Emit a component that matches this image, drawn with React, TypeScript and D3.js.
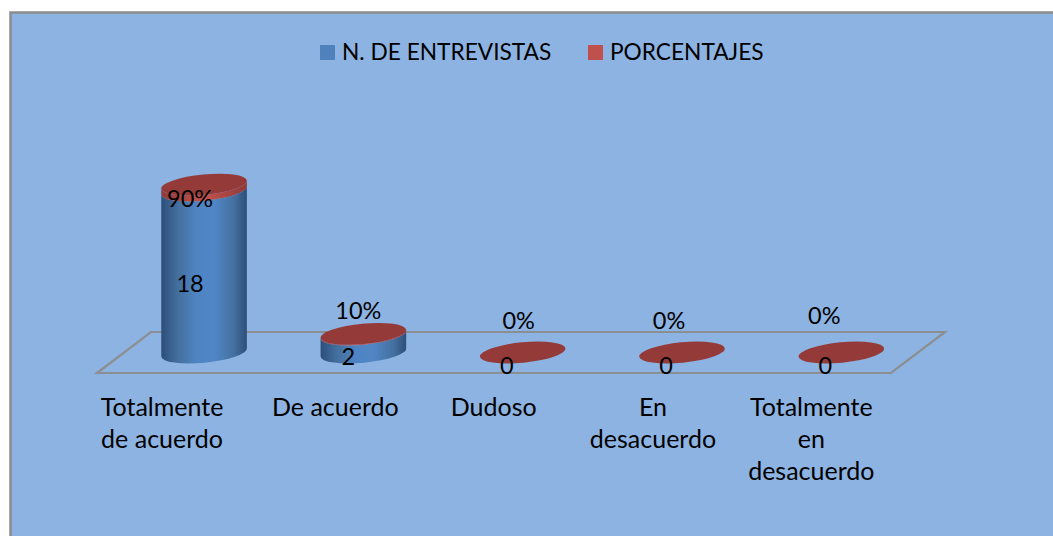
import React from "react";
import * as d3 from "d3";

const categories = ["Totalmente de acuerdo", "De acuerdo", "Dudoso", "En desacuerdo", "Totalmente en desacuerdo"];
const categoryLines = [["Totalmente", "de acuerdo"], ["De acuerdo"], ["Dudoso"], ["En", "desacuerdo"], ["Totalmente", "en", "desacuerdo"]];
const entrevistas = [18, 2, 0, 0, 0];
const porcentajes = [0.9, 0.1, 0, 0, 0];
const porcentajeLabels = ["90%", "10%", "0%", "0%", "0%"];
const seriesNames = ["N. DE ENTREVISTAS", "PORCENTAJES"];

const FONT = "Lato, 'Open Sans', sans-serif";
const RX = 43;
const RY = 10.2;
const TILT = -5.5;
const rad = (TILT * Math.PI) / 180;
const dx = RX * Math.cos(rad);
const dy = RX * Math.sin(rad);

const x = d3.scaleBand<string>().domain(categories).range([124.4, 921]).paddingInner(0).paddingOuter(0);
const y = d3.scaleLinear().domain([0, 18]).range([352.5, 190.5]);
const pctHeight = d3.scaleLinear().domain([0, 1]).range([0, 6.5]);

function cylinder(cx: number, y0: number, y1: number) {
  return `M${cx - dx},${y0 - dy} A${RX},${RY} ${TILT} 0 0 ${cx + dx},${y0 + dy} L${cx + dx},${y1 + dy} A${RX},${RY} ${TILT} 0 1 ${cx - dx},${y1 - dy} Z`;
}

const blueOffsets = [-14, -15, -16, -16, -16];
const blueLabelY = [283, 356, 365, 365, 365];
const pctOffsets = [-14, -5, -4, -13, -17];
const pctLabelY = [198, 310, 319.5, 319.5, 314.5];
const catOffsets = [-42, -28, -29, -29, -30];
const floor = d3.line()([[97, 373], [151, 332], [945, 332], [891, 373]]) + "Z";

export default function App() {
  return (
    <svg width={1053} height={536} style={{ position: "fixed", left: 0, top: 0, background: "#fff" }} fontFamily={FONT}>
      <defs>
        <linearGradient id="blue" x1="0" x2="1" y1="0" y2="0">
          <stop offset="0" stopColor="#2d4f7a" />
          <stop offset="0.2" stopColor="#44709f" />
          <stop offset="0.42" stopColor="#4f84c4" />
          <stop offset="0.62" stopColor="#5086c6" />
          <stop offset="0.85" stopColor="#44709f" />
          <stop offset="1" stopColor="#2d4f7a" />
        </linearGradient>
        <linearGradient id="red" x1="0" x2="1" y1="0" y2="0">
          <stop offset="0" stopColor="#8f3a38" />
          <stop offset="0.5" stopColor="#c4524f" />
          <stop offset="1" stopColor="#8f3a38" />
        </linearGradient>
      </defs>
      <rect x={10.5} y={12.5} width={1050} height={530} fill="#8db3e2" stroke="#8c8c8c" strokeWidth={2.5} />
      <path d={floor} fill="none" stroke="#8c8f92" strokeWidth={2.2} />

      {seriesNames.map((name, i) => (
        <g key={name}>
          <rect x={[320, 588][i]} y={45} width={15} height={15} fill={["#4f81bd", "#c0504d"][i]} />
          <text x={[342, 610][i]} y={60} fontSize={22.7} fill="#000">{name}</text>
        </g>
      ))}

      {categories.map((c, i) => {
        const cx = x(c)! + x.bandwidth() / 2;
        const b0 = y(0);
        const b1 = y(entrevistas[i]);
        const r1 = b1 - pctHeight(porcentajes[i]);
        return (
          <g key={c}>
            {entrevistas[i] > 0 && <path d={cylinder(cx, b0, b1)} fill="url(#blue)" />}
            {porcentajes[i] > 0 && <path d={cylinder(cx, b1, r1)} fill="url(#red)" />}
            <ellipse cx={cx} cy={r1} rx={RX} ry={RY} fill="#943b39" transform={`rotate(${TILT} ${cx} ${r1})`} />
            <text x={cx + blueOffsets[i]} y={blueLabelY[i]} textAnchor="middle" dominantBaseline="central" fontSize={23.5} fill="#000">{entrevistas[i]}</text>
            <text x={cx + pctOffsets[i]} y={pctLabelY[i]} textAnchor="middle" dominantBaseline="central" fontSize={23.5} fill="#000">{porcentajeLabels[i]}</text>
            {categoryLines[i].map((line, j) => (
              <text key={j} x={cx + catOffsets[i]} y={406 + j * 32} textAnchor="middle" dominantBaseline="central" fontSize={25} fill="#000">{line}</text>
            ))}
          </g>
        );
      })}
    </svg>
  );
}
